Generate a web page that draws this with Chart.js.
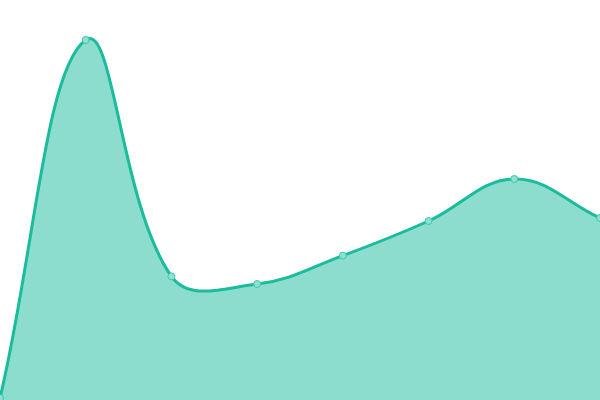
<!DOCTYPE html>
<html><head><meta charset="utf-8">
<script src="https://cdn.jsdelivr.net/npm/chart.js@4"></script>
<style>html,body{margin:0;padding:0;background:#fff}#w{width:600px;height:400px}</style>
</head><body><div id="w"><canvas id="c"></canvas></div>
<script>
const labels = ["1","2","3","4","5","6","7","8"];
const values = [0.5, 90, 30.9, 29, 36.1, 44.75, 55.25, 45.5];
const yMin = 0, yMax = 100;
new Chart(document.getElementById('c'), {
  type: 'line',
  data: { labels: labels, datasets: [{
    data: values,
    fill: 'origin',
    backgroundColor: 'rgba(26,188,156,0.5)',
    borderColor: '#1abc9c',
    borderWidth: 3,
    tension: 0.4,
    pointRadius: 3.5,
    pointBackgroundColor: '#8fe0cf',
    pointBorderColor: '#3cc6a8',
    pointBorderWidth: 1
  }]},
  options: {
    responsive: true, maintainAspectRatio: false, animation: false,
    layout: { padding: 0, autoPadding: false },
    plugins: { legend: { display: false }, tooltip: { enabled: false } },
    scales: {
      x: { display: false, offset: false },
      y: { display: false, min: yMin, max: yMax }
    }
  }
});
</script></body></html>
